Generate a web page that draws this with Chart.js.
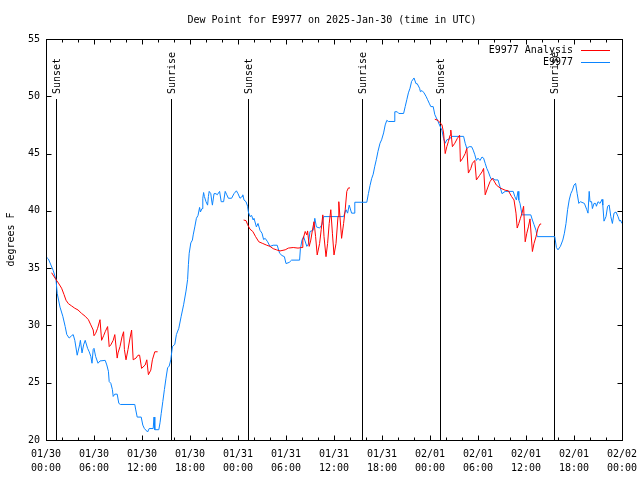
<!DOCTYPE html>
<html><head><meta charset="utf-8">
<script src="https://cdn.jsdelivr.net/npm/chart.js@4.4.1/dist/chart.umd.min.js"></script>
<style>html,body{margin:0;padding:0;background:#fff;} canvas{display:block;}</style>
</head><body>
<canvas id="c" width="640" height="480"></canvas>
<script>
const chartTitle = 'Dew Point for E9977 on 2025-Jan-30 (time in UTC)';
const yAxisTitle = 'degrees F';
const tickDates = ['01/30','01/30','01/30','01/30','01/31','01/31','01/31','01/31','02/01','02/01','02/01','02/01','02/02'];
const tickTimes = ['00:00','06:00','12:00','18:00','00:00','06:00','12:00','18:00','00:00','06:00','12:00','18:00','00:00'];

const obsLabel = 'E9977';
const obsHours = [0,0.3,0.9,1.25,1.4,1.75,2.1,2.4,2.6,2.9,3.2,3.4,3.6,3.9,4.2,4.3,4.5,4.7,4.9,5.2,5.4,5.6,5.75,5.9,6.0,6.2,6.5,6.75,7.4,7.6,7.8,7.9,8.1,8.3,8.4,8.6,8.9,9.1,9.3,11.1,11.2,11.4,11.9,12.1,12.3,12.7,12.9,13.4,13.5,13.6,14.1,14.25,14.4,14.6,14.8,15.0,15.2,15.4,15.6,15.8,16.1,16.3,16.6,16.9,17.2,17.5,17.7,17.8,17.9,18.1,18.3,18.4,18.6,18.8,19.0,19.2,19.3,19.5,19.6,19.7,19.8,20.0,20.2,20.3,20.4,20.6,20.7,20.8,21.0,21.25,21.4,21.7,21.9,22.2,22.4,22.6,22.8,23.2,23.5,23.8,24.0,24.25,24.5,24.6,24.75,25.0,25.2,25.3,25.5,25.7,25.9,26.0,26.3,26.5,26.75,27.0,27.2,27.4,27.7,28.0,28.4,28.9,29.2,29.5,29.8,30.0,30.4,30.7,31.7,31.8,32.0,32.2,32.6,32.8,33.0,33.4,33.6,33.8,34.2,34.5,34.7,37.2,37.5,37.7,37.9,38.2,38.5,38.6,40.1,40.3,40.5,40.7,40.9,41.1,41.3,41.5,41.75,41.95,42.2,42.4,42.6,42.8,43.5,43.6,43.9,44.1,44.7,44.9,45.1,45.3,45.5,45.7,46.0,46.25,46.4,46.7,46.8,47.0,47.25,47.5,47.7,47.9,48.1,48.4,48.6,49.0,49.5,49.7,49.9,50.1,50.5,50.7,52.2,52.4,52.6,52.9,53.2,53.4,53.6,53.8,54.0,54.25,54.5,54.7,54.9,55.1,55.3,55.5,55.7,55.9,56.1,56.5,56.75,57.0,57.4,58.4,58.6,58.8,59.0,59.1,59.25,59.5,60.6,60.8,61.0,61.25,61.4,63.6,63.8,64.0,64.3,64.6,64.8,65.0,65.2,65.4,65.6,65.8,66.0,66.2,66.4,66.6,66.8,67.3,67.6,67.75,67.9,68.0,68.2,68.3,68.5,68.7,68.8,69.0,69.25,69.5,69.6,69.75,70.0,70.2,70.4,70.6,70.8,71.0,71.25,71.5,71.7,71.8,72.0];
const obsDew = [36.0,35.8,34.8,34.0,32.8,31.6,30.8,29.9,29.2,28.9,29.1,29.2,28.7,27.4,28.3,28.7,27.6,28.3,28.7,28.0,27.7,27.3,26.7,27.9,28.0,27.3,26.7,26.9,26.95,26.55,26.0,25.1,24.95,24.4,23.8,24.0,24.0,23.2,23.1,23.1,22.7,22.0,22.0,21.3,21.0,20.7,21.0,21.0,22.0,20.9,20.9,21.5,22.3,23.35,24.4,25.4,26.3,26.45,27.0,28.15,28.35,29.2,29.75,30.8,31.8,33.0,34.0,35.3,36.3,37.2,37.45,37.9,38.6,39.35,39.6,40.3,39.9,40.2,41.1,41.6,41.25,40.8,40.5,41.25,41.7,41.5,40.95,40.5,41.5,41.5,41.4,41.7,40.8,40.8,41.7,41.4,41.1,41.1,41.5,41.75,41.5,41.1,41.25,41.4,40.95,40.8,40.4,39.9,39.5,39.6,39.2,39.35,38.6,38.9,38.3,38.05,37.5,37.6,37.3,36.9,37.0,37.0,36.3,36.1,36.0,35.4,35.5,35.7,35.7,36.7,37.45,37.75,36.9,37.1,38.2,38.3,39.35,38.6,38.5,38.8,39.5,39.5,40.1,39.8,40.5,39.8,39.8,40.75,40.75,41.5,42.2,42.8,43.2,43.9,44.5,45.2,45.9,46.2,46.8,47.5,47.9,47.8,47.8,48.65,48.65,48.5,48.5,49.1,49.7,50.3,50.7,51.3,51.6,51.1,51.1,50.7,50.4,50.5,50.3,50.0,49.7,49.4,49.1,49.1,48.4,47.8,47.0,46.3,45.9,46.2,46.3,46.5,46.5,45.9,45.45,45.6,45.6,45.3,44.9,44.4,44.6,44.4,44.7,44.6,44.15,43.7,43.4,43.0,42.7,42.85,42.7,42.7,42.1,41.5,41.7,41.7,41.25,40.95,41.7,40.95,40.65,39.65,39.65,39.2,38.8,38.3,37.75,37.75,36.8,36.6,36.9,37.45,38.05,38.9,40.1,40.95,41.5,41.8,42.25,42.4,41.5,40.65,40.8,40.65,40.1,39.8,41.7,40.8,40.8,40.2,40.65,40.65,40.4,40.8,40.65,41.0,40.5,39.1,39.5,40.4,40.5,39.5,38.9,39.8,39.9,39.5,39.1,39.2,38.9];

const anaLabel = 'E9977 Analysis';
const anaHours = [0.7,1.25,1.55,1.95,2.25,2.5,2.8,3.2,3.6,4.0,4.45,4.9,5.3,5.6,5.9,6.0,6.2,6.45,6.75,6.95,7.2,7.4,7.7,7.9,8.1,8.4,8.6,8.9,9.0,9.25,9.5,9.7,9.8,10.0,10.25,10.5,10.7,10.9,11.25,11.5,11.7,11.95,12.4,12.6,12.8,13.1,13.3,13.6,13.95,
  19,
  24.7,25.0,25.2,25.5,25.85,26.2,26.6,27.1,27.6,28.0,28.4,28.8,29.25,29.9,30.3,30.9,31.5,32.0,32.1,32.4,32.6,32.7,32.9,33.1,33.3,33.5,33.7,33.9,34.2,34.4,34.6,34.75,35.0,35.2,35.4,35.6,35.8,36.0,36.25,36.5,36.6,36.95,37.2,37.4,37.6,37.8,38.0,
  43,
  48.6,49.0,49.5,49.7,49.9,50.1,50.3,50.5,50.6,50.8,51.1,51.4,51.7,51.8,52.1,52.4,52.6,52.8,53.1,53.3,53.6,53.8,54.2,54.5,54.7,54.9,55.2,55.5,55.8,56.3,56.75,57.4,57.8,58.2,58.5,58.75,58.9,59.1,59.3,59.5,59.7,59.9,60.1,60.3,60.5,60.8,61.0,61.25,61.5,61.75,61.9];
const anaDew = [34.6,34.0,33.7,33.25,32.7,32.2,31.9,31.7,31.5,31.35,31.05,30.8,30.5,30.05,29.6,29.1,29.3,29.75,30.5,28.7,29.1,29.45,29.9,28.15,28.3,28.7,29.2,27.15,27.6,28.15,29.0,29.45,27.9,27.0,27.9,28.9,29.6,27.0,27.15,27.4,27.4,26.25,26.55,27.0,25.7,26.1,27.0,27.7,27.7,
  null,
  39.2,39.15,38.8,38.4,38.2,37.75,37.3,37.15,37.0,36.9,36.7,36.6,36.5,36.6,36.75,36.8,36.75,36.8,37.45,38.2,37.9,38.25,36.9,37.45,38.3,39.05,37.75,36.15,37.15,38.35,39.65,37.75,36.0,37.15,38.9,40.1,38.05,36.15,37.15,39.5,40.8,37.6,38.9,40.1,41.7,42.0,42.0,
  null,
  48.0,47.9,47.5,46.8,45.0,45.6,46.05,46.6,47.05,45.6,45.9,46.3,46.6,44.3,44.6,45.0,45.45,43.3,43.7,44.15,44.4,42.7,43.1,43.4,43.7,41.4,42.0,42.55,42.85,42.25,42.0,41.8,41.75,41.25,40.95,39.8,38.5,38.9,39.35,39.8,40.4,37.3,38.05,38.6,39.3,36.45,37.15,37.75,38.5,38.85,38.85];

const sunEventHours = [1.29, 15.66, 25.3, 39.54, 49.29, 63.54];
const sunEventNames = ['Sunset','Sunrise','Sunset','Sunrise','Sunset','Sunrise'];

const FONT = "10px 'DejaVu Sans Mono', 'Liberation Mono', monospace";
const obsColor = '#0a84ff';
const anaColor = '#ff0000';

function pts(xs, ys){ return xs.map((x,i)=>({x:x, y:ys[i]})); }

const decor = {
  id: 'decor',
  beforeDatasetsDraw(chart){
    const {ctx, chartArea:a, scales:{x}} = chart;
    ctx.save();
    ctx.strokeStyle = '#000'; ctx.lineWidth = 1;
    ctx.fillStyle = '#000'; ctx.font = FONT;
    const topY = a.bottom - 0.85*(a.bottom - a.top);
    sunEventHours.forEach((h,i)=>{
      const px = Math.round(x.getPixelForValue(h)) + 0.5;
      ctx.beginPath(); ctx.moveTo(px, a.bottom); ctx.lineTo(px, Math.round(topY)); ctx.stroke();
      ctx.save();
      ctx.translate(px + 1, Math.round(topY) - 5);
      ctx.rotate(-Math.PI/2);
      ctx.textAlign = 'left'; ctx.textBaseline = 'middle';
      ctx.fillText(sunEventNames[i], 0, 0);
      ctx.restore();
    });
    ctx.restore();
  },
  afterDraw(chart){
    const {ctx, chartArea:a, scales:{x, y}} = chart;
    ctx.save();
    ctx.strokeStyle = '#000'; ctx.lineWidth = 1;
    const L = Math.round(a.left)+0.5, R = Math.round(a.right)+0.5, T = Math.round(a.top)+0.5, B = Math.round(a.bottom)+0.5;
    ctx.strokeRect(L, T, R-L, B-T);
    ctx.beginPath();
    for (let h = 0; h <= 72; h += 2){
      const px = Math.round(x.getPixelForValue(h)) + 0.5;
      const len = (h % 6 === 0) ? 5 : 3;
      ctx.moveTo(px, B); ctx.lineTo(px, B - len);
      ctx.moveTo(px, T); ctx.lineTo(px, T + len);
    }
    for (let v = 20; v <= 55; v += 5){
      const py = Math.round(y.getPixelForValue(v)) + 0.5;
      ctx.moveTo(L, py); ctx.lineTo(L + 5, py);
      ctx.moveTo(R, py); ctx.lineTo(R - 5, py);
    }
    ctx.stroke();
    ctx.fillStyle = '#000'; ctx.font = FONT;
    ctx.textAlign = 'center'; ctx.textBaseline = 'middle';
    ctx.fillText(chartTitle, (a.left + a.right)/2 - 2, 20);
    ctx.save();
    ctx.translate(11, (a.top + a.bottom)/2);
    ctx.rotate(-Math.PI/2);
    ctx.fillText(yAxisTitle, 0, 0);
    ctx.restore();
    const items = [[anaLabel, anaColor], [obsLabel, obsColor]];
    items.forEach((it, i)=>{
      const cy = a.top + 11 + i*12;
      ctx.fillStyle = '#000';
      ctx.textAlign = 'right';
      ctx.fillText(it[0], a.right - 49, cy);
      ctx.strokeStyle = it[1];
      ctx.beginPath(); ctx.moveTo(a.right - 41, Math.round(cy)+0.5); ctx.lineTo(a.right - 12, Math.round(cy)+0.5); ctx.stroke();
    });
    ctx.restore();
  }
};

new Chart(document.getElementById('c'), {
  type: 'line',
  data: {
    datasets: [
      {label: anaLabel, data: pts(anaHours, anaDew), borderColor: anaColor, borderWidth: 1, pointRadius: 0, tension: 0, spanGaps: false, fill: false},
      {label: obsLabel, data: pts(obsHours, obsDew), borderColor: obsColor, borderWidth: 1, pointRadius: 0, tension: 0, fill: false}
    ]
  },
  options: {
    responsive: false, animation: false, devicePixelRatio: 1,
    layout: {padding: {top: 39, right: 18, left: 0, bottom: 0}},
    plugins: {legend: {display: false}, title: {display: false}, tooltip: {enabled: false}},
    scales: {
      x: {
        type: 'linear', min: 0, max: 72,
        afterFit(s){ s.height = 40; s.paddingLeft = 0; s.paddingRight = 0; },
        grid: {display: false, drawTicks: false},
        border: {display: false},
        ticks: {
          stepSize: 6, autoSkip: false, maxRotation: 0, padding: 7,
          color: '#000', font: {family: "'DejaVu Sans Mono', 'Liberation Mono', monospace", size: 10, lineHeight: 1.4},
          callback: (v) => { const i = Math.round(v/6); return [tickDates[i], tickTimes[i]]; }
        }
      },
      y: {
        min: 20, max: 55,
        afterFit(s){ s.width = 46; s.paddingTop = 0; s.paddingBottom = 0; },
        grid: {display: false, drawTicks: false},
        border: {display: false},
        ticks: {stepSize: 5, padding: 6, color: '#000', font: {family: "'DejaVu Sans Mono', 'Liberation Mono', monospace", size: 10}}
      }
    }
  },
  plugins: [decor]
});
</script>
</body></html>
